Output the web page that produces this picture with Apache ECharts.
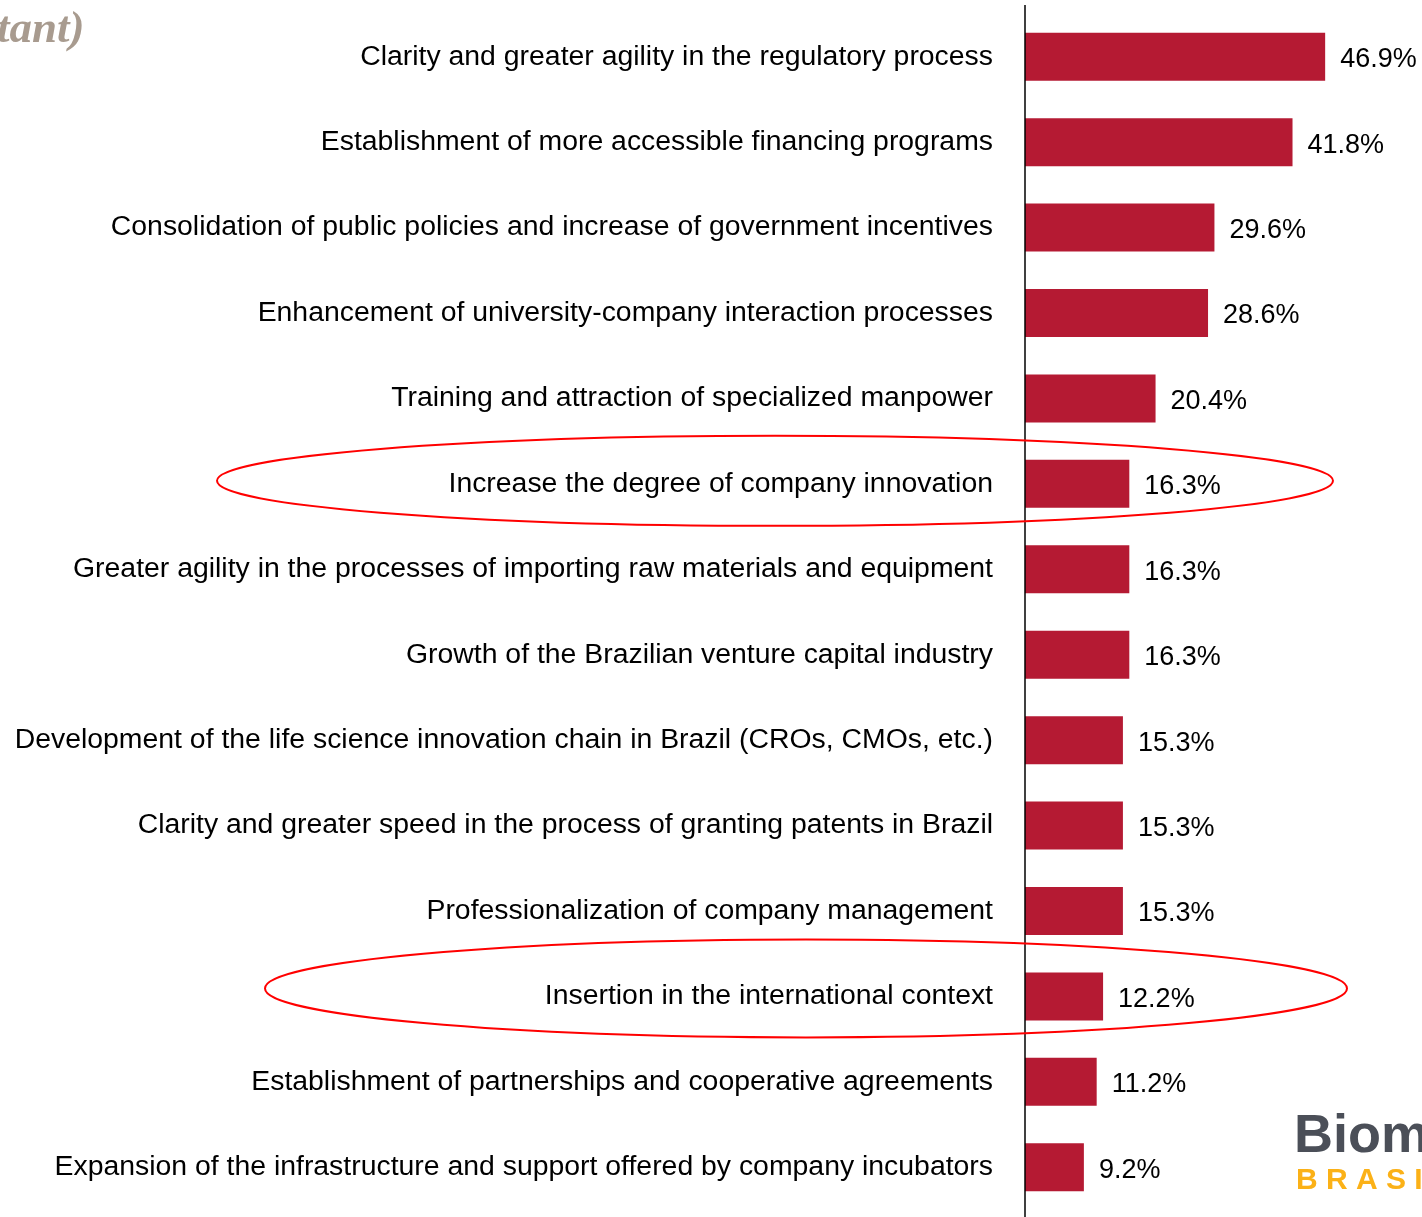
<!DOCTYPE html>
<html>
<head>
<meta charset="utf-8">
<script src="https://cdn.jsdelivr.net/npm/echarts@6/dist/echarts.min.js"></script>
<style>
  html, body { margin: 0; padding: 0; background: #ffffff; }
  #chart { width: 1422px; height: 1217px; }
</style>
</head>
<body>
<div id="chart"></div>
<script>
// Factors, listed top to bottom
const categories = [
  'Clarity and greater agility in the regulatory process',
  'Establishment of more accessible financing programs',
  'Consolidation of public policies and increase of government incentives',
  'Enhancement of university-company interaction processes',
  'Training and attraction of specialized manpower',
  'Increase the degree of company innovation',
  'Greater agility in the processes of importing raw materials and equipment',
  'Growth of the Brazilian venture capital industry',
  'Development of the life science innovation chain in Brazil (CROs, CMOs, etc.)',
  'Clarity and greater speed in the process of granting patents in Brazil',
  'Professionalization of company management',
  'Insertion in the international context',
  'Establishment of partnerships and cooperative agreements',
  'Expansion of the infrastructure and support offered by company incubators'
];

// Share of respondents (%)
const shares = [46.9, 41.8, 29.6, 28.6, 20.4, 16.3, 16.3, 16.3, 15.3, 15.3, 15.3, 12.2, 11.2, 9.2];

// Rows circled for emphasis
const highlighted = [
  'Increase the degree of company innovation',
  'Insertion in the international context'
];

const chart = echarts.init(document.getElementById('chart'), null, { renderer: 'canvas' });

const gridTop = 14, gridHeight = 1196, gridLeft = 1025;
const band = gridHeight / categories.length;

function ellipseFor(name, cx, rx, ry, dy) {
  const idx = categories.indexOf(name);
  const cy = gridTop + band * (idx + 0.5) + dy;
  return {
    type: 'ellipse',
    shape: { cx: cx, cy: cy, rx: rx, ry: ry },
    style: { fill: 'none', stroke: '#ff0000', lineWidth: 2 },
    z: 10
  };
}

chart.setOption({
  backgroundColor: '#ffffff',
  animation: false,
  grid: { left: gridLeft, top: gridTop, width: 384, height: gridHeight },
  xAxis: {
    type: 'value',
    min: 0,
    max: 60,
    show: false
  },
  yAxis: {
    type: 'category',
    data: categories,
    inverse: true,
    axisLine: { show: false },
    axisTick: { show: false },
    splitLine: { show: false },
    axisLabel: {
      color: '#000000',
      fontFamily: 'Liberation Sans, Arial, sans-serif',
      fontSize: 28.4,
      margin: 32,
      offset: [0, -1]
    }
  },
  series: [{
    type: 'bar',
    data: shares,
    barWidth: 48,
    itemStyle: { color: '#b51a33' },
    label: {
      show: true,
      position: 'right',
      distance: 15,
      color: '#000000',
      fontFamily: 'Liberation Sans, Arial, sans-serif',
      fontSize: 27,
      offset: [0, 3],
      formatter: p => p.value.toFixed(1) + '%'
    }
  }],
  graphic: [
    // vertical baseline
    {
      type: 'line',
      shape: { x1: gridLeft, y1: 5, x2: gridLeft, y2: 1217 },
      style: { stroke: '#000000', lineWidth: 1.5 },
      z: 5
    },
    // title tail
    {
      type: 'text',
      left: -3,
      top: 8,
      style: {
        text: 'tant)',
        fill: '#a89b8f',
        font: 'italic bold 45px "Liberation Serif", "DejaVu Serif", serif'
      }
    },
    // highlight ellipses
    ellipseFor(highlighted[0], 775, 558, 45, -3),
    ellipseFor(highlighted[1], 806, 541, 49, -8),
    // logo
    {
      type: 'text',
      left: 1294,
      top: 1110,
      style: {
        text: 'Biominas',
        fill: '#4b4f58',
        font: 'bold 54px "Liberation Sans", Arial, sans-serif'
      }
    },
    {
      type: 'text',
      left: 1296,
      top: 1166,
      style: {
        text: 'B R A S I L',
        fill: '#fbb117',
        font: 'bold 30px "Liberation Sans", Arial, sans-serif'
      }
    }
  ]
});
</script>
</body>
</html>
